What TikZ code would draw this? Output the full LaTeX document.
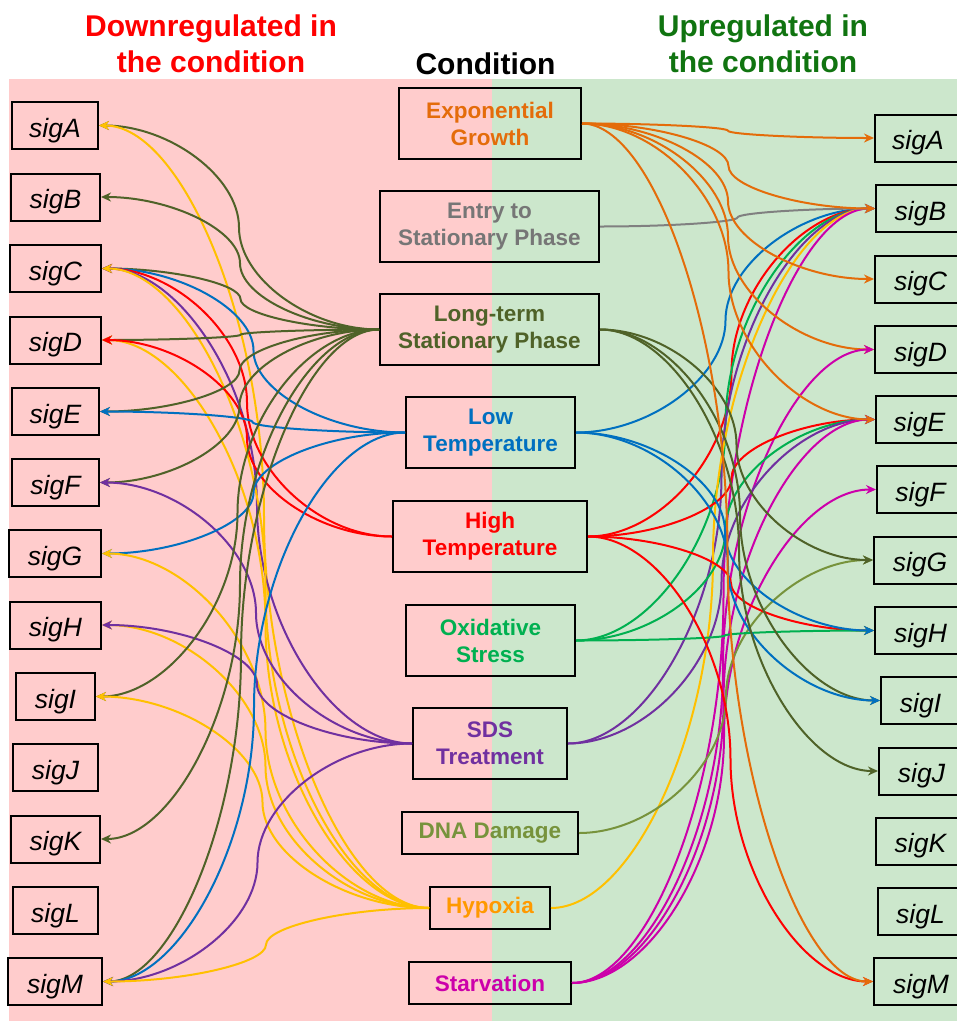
\documentclass[tikz,border=0pt]{standalone}
\usepackage{fontspec}
\setmainfont{Liberation Sans}
\usetikzlibrary{calc,arrows.meta}
\definecolor{cPink}{RGB}{255,204,204}
\definecolor{cGreenBg}{RGB}{204,231,204}
\definecolor{cTitleRed}{RGB}{255,0,0}
\definecolor{cTitleGreen}{RGB}{16,116,16}
\definecolor{cExp}{RGB}{228,108,10}
\definecolor{cEntry}{RGB}{128,128,128}
\definecolor{cEntryText}{RGB}{118,118,118}
\definecolor{cLong}{RGB}{79,98,40}
\definecolor{cLow}{RGB}{0,112,192}
\definecolor{cHigh}{RGB}{255,0,0}
\definecolor{cOx}{RGB}{0,176,80}
\definecolor{cSDS}{RGB}{112,48,160}
\definecolor{cDNA}{RGB}{119,147,60}
\definecolor{cHyp}{RGB}{255,192,0}
\definecolor{cHypText}{RGB}{255,153,0}
\definecolor{cStarv}{RGB}{204,0,170}
\begin{document}
\begin{tikzpicture}[x=1pt,y=-1pt,
 sigbox/.style={draw=black, line width=2pt, inner sep=0pt, minimum height=47pt,
   font=\fontsize{26.5}{30}\selectfont\itshape, text height=23pt, text depth=0pt},
 condbox/.style={draw=black, line width=2pt, inner sep=0pt, minimum height=71pt,
   align=center, font=\fontsize{22.5}{27}\selectfont\bfseries},
 titletext/.style={anchor=base, inner sep=0pt, font=\fontsize{30}{36}\selectfont\bfseries},
 conn/.style={line width=2pt, -{Stealth[length=10pt,width=9pt]}},
 pp/.style={to path={let \p1=(\tikztostart), \p2=(\tikztotarget) in
   .. controls ({0.75*\x1+0.25*\x2},{\y1}) and ({0.5*\x1+0.5*\x2},{0.75*\y1+0.25*\y2}) ..
   ({0.5*\x1+0.5*\x2},{0.5*\y1+0.5*\y2})
   .. controls ({0.5*\x1+0.5*\x2},{0.25*\y1+0.75*\y2}) and ({0.25*\x1+0.75*\x2},{\y2}) .. (\tikztotarget)}}
]
\useasboundingbox (0,0) rectangle (957,1021);
\begin{scope}
\clip (0,0) rectangle (957,1021);
% backgrounds
\fill[cPink] (9,79) rectangle (492,1021);
\fill[cGreenBg] (492,79) rectangle (957,1021);

% titles
\node[titletext, text=cTitleRed] (T1a) at (211,36) {Downregulated in};
\node[titletext, text=cTitleRed] (T1b) at (211,72) {the condition};
\node[titletext, text=black] (T2) at (485.5,74) {Condition};
\node[titletext, text=cTitleGreen] (T3a) at (763,36) {Upregulated in};
\node[titletext, text=cTitleGreen] (T3b) at (763,72) {the condition};

% left sigma boxes
\node[sigbox, minimum width=86pt] (LA) at (55,125.5) {sigA};
\node[sigbox, minimum width=89pt] (LB) at (55.5,197) {sigB};
\node[sigbox, minimum width=91pt] (LC) at (55.5,268.5) {sigC};
\node[sigbox, minimum width=91pt] (LD) at (55.5,340) {sigD};
\node[sigbox, minimum width=87pt] (LE) at (55.5,411.5) {sigE};
\node[sigbox, minimum width=87pt] (LF) at (55.5,482.5) {sigF};
\node[sigbox, minimum width=92pt] (LG) at (55,553.5) {sigG};
\node[sigbox, minimum width=91pt] (LH) at (55.5,625) {sigH};
\node[sigbox, minimum width=79pt] (LI) at (55.5,696.5) {sigI};
\node[sigbox, minimum width=85pt] (LJ) at (55.5,767.5) {sigJ};
\node[sigbox, minimum width=89pt] (LK) at (55.5,839) {sigK};
\node[sigbox, minimum width=85pt] (LL) at (55.5,910.5) {sigL};
\node[sigbox, minimum width=94pt] (LM) at (55,981.5) {sigM};

% right sigma boxes
\node[sigbox, minimum width=86pt] (RA) at (918,138) {sigA};
\node[sigbox, minimum width=89pt] (RB) at (920.5,208.5) {sigB};
\node[sigbox, minimum width=91pt] (RC) at (920.5,279) {sigC};
\node[sigbox, minimum width=91pt] (RD) at (920.5,349.5) {sigD};
\node[sigbox, minimum width=87pt] (RE) at (919.5,419.5) {sigE};
\node[sigbox, minimum width=87pt] (RF) at (920.5,489.5) {sigF};
\node[sigbox, minimum width=92pt] (RG) at (920,560) {sigG};
\node[sigbox, minimum width=91pt] (RH) at (920.5,630.5) {sigH};
\node[sigbox, minimum width=79pt] (RI) at (920.5,700.5) {sigI};
\node[sigbox, minimum width=85pt] (RJ) at (921.5,771) {sigJ};
\node[sigbox, minimum width=89pt] (RK) at (920.5,841) {sigK};
\node[sigbox, minimum width=85pt] (RL) at (920.5,911.5) {sigL};
\node[sigbox, minimum width=94pt] (RM) at (921,981.5) {sigM};

% condition boxes
\node[condbox, text=cExp, minimum width=182pt] (Exp) at (490,123.5) {Exponential\\Growth};
\node[condbox, text=cEntryText, minimum width=219pt] (Entry) at (489.5,226.5) {Entry to\\Stationary Phase};
\node[condbox, text=cLong, minimum width=219pt] (Long) at (489.5,329.5) {Long-term\\Stationary Phase};
\node[condbox, text=cLow, minimum width=169pt] (Low) at (490.5,432.5) {Low\\Temperature};
\node[condbox, text=cHigh, minimum width=194pt] (High) at (490,536.5) {High\\Temperature};
\node[condbox, text=cOx, minimum width=169pt] (Ox) at (490.5,640.5) {Oxidative\\Stress};
\node[condbox, text=cSDS, minimum width=154pt] (SDS) at (490,743.5) {SDS\\Treatment};
\node[condbox, text=cDNA, minimum width=176pt, minimum height=42pt] (DNA) at (490,833) {DNA Damage};
\node[condbox, text=cHypText, minimum width=120pt, minimum height=42pt] (Hyp) at (490,908) {Hypoxia};
\node[condbox, text=cStarv, minimum width=162pt, minimum height=42pt] (Starv) at (490,983) {Starvation};

% ---------- downregulated (left) ----------
\draw[conn, cLong] (Long.west) to[pp] (LA.east);
\draw[conn, cHyp]  (Hyp.west)  to[pp] (LA.east);
\draw[conn, cLong] (Long.west) to[pp] (LB.east);
\draw[conn, cLong] (Long.west) to[pp] (LC.east);
\draw[conn, cLow]  (Low.west)  to[pp] (LC.east);
\draw[conn, cHigh] (High.west) to[pp] (LC.east);
\draw[conn, cSDS]  (SDS.west)  to[pp] (LC.east);
\draw[conn, cHyp]  (Hyp.west)  to[pp] (LC.east);
\draw[conn, cLong] (Long.west) to[pp] (LD.east);
\draw[conn, cHyp]  (Hyp.west)  to[pp] (LD.east);
\draw[conn, cHigh] (High.west) to[pp] (LD.east);
\draw[conn, cLong] (Long.west) to[pp] (LE.east);
\draw[conn, cLow]  (Low.west)  to[pp] (LE.east);
\draw[conn, cLong] (Long.west) to[pp] (LF.east);
\draw[conn, cSDS]  (SDS.west)  to[pp] (LF.east);
\draw[conn, cLow]  (Low.west)  to[pp] (LG.east);
\draw[conn, cHyp]  (Hyp.west)  to[pp] (LG.east);
\draw[conn, cHyp]  (Hyp.west)  to[pp] (LH.east);
\draw[conn, cSDS]  (SDS.west)  to[pp] (LH.east);
\draw[conn, cLong] (Long.west) to[pp] (LI.east);
\draw[conn, cHyp]  (Hyp.west)  to[pp] (LI.east);
\draw[conn, cLong] (Long.west) to[pp] (LK.east);
\draw[conn, cLong] (Long.west) to[pp] (LM.east);
\draw[conn, cLow]  (Low.west)  to[pp] (LM.east);
\draw[conn, cSDS]  (SDS.west)  to[pp] (LM.east);
\draw[conn, cHyp]  (Hyp.west)  to[pp] (LM.east);

% ---------- upregulated (right) ----------
\draw[conn, cExp]   (Exp.east)   to[pp] (RA.west);
\draw[conn, cLow]   (Low.east)   to[pp] (RB.west);
\draw[conn, cHigh]  (High.east)  to[pp] (RB.west);
\draw[conn, cOx]    (Ox.east)    to[pp] (RB.west);
\draw[conn, cSDS]   (SDS.east)   to[pp] (RB.west);
\draw[conn, cHyp]   (Hyp.east)   to[pp] (RB.west);
\draw[conn, cStarv] (Starv.east) to[pp] (RB.west);
\draw[conn, cEntry] (Entry.east) to[pp] (RB.west);
\draw[conn, cExp]   (Exp.east)   to[pp] (RB.west);
\draw[conn, cExp]   (Exp.east)   to[pp] (RC.west);
\draw[conn, cExp]   (Exp.east)   to[pp] (RD.west);
\draw[conn, cStarv] (Starv.east) to[pp] (RD.west);
\draw[conn, cHigh]  (High.east)  to[pp] (RE.west);
\draw[conn, cOx]    (Ox.east)    to[pp] (RE.west);
\draw[conn, cSDS]   (SDS.east)   to[pp] (RE.west);
\draw[conn, cStarv] (Starv.east) to[pp] (RE.west);
\draw[conn, cExp]   (Exp.east)   to[pp] (RE.west);
\draw[conn, cStarv] (Starv.east) to[pp] (RF.west);
\draw[conn, cDNA]   (DNA.east)   to[pp] (RG.west);
\draw[conn, cLong]  (Long.east)  to[pp] (RG.west);
\draw[conn, cHigh]  (High.east)  to[pp] (RH.west);
\draw[conn, cOx]    (Ox.east)    to[pp] (RH.west);
\draw[conn, cLow]   (Low.east)   to[pp] (RH.west);
\draw[conn, cLong]  (Long.east)  to[pp] (RI.west);
\draw[conn, cLow]   (Low.east)   to[pp] (RI.west);
\draw[conn, cLong]  (Long.east)  to[pp] (RJ.west);
\draw[conn, cHigh]  (High.east)  to[pp] (RM.west);
\draw[conn, cExp]   (Exp.east)   to[pp] (RM.west);
\end{scope}
\end{tikzpicture}
\end{document}
